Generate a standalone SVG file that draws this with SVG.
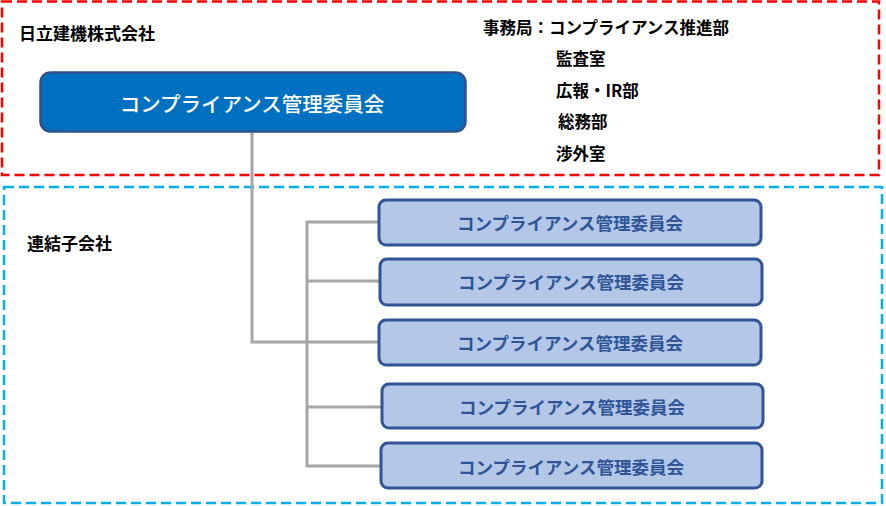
<svg xmlns="http://www.w3.org/2000/svg" width="886" height="506" viewBox="0 0 886 506">
<style>
text{font-family:"Noto Sans CJK JP","Noto Sans CJK SC",sans-serif;font-weight:bold;dominant-baseline:central}
.lbl{font-size:17px;fill:#000}
.sub{font-size:16.5px;fill:#000}
.child rect{fill:#B4C7E7;stroke:#2F5597;stroke-width:3}
.child text{font-size:17.5px;fill:#2F5597;text-anchor:middle;font-weight:bold}
.conn{fill:none;stroke:#A6A6A6;stroke-width:3}
</style>
<rect width="886" height="506" fill="#fff"/>
<g id="frame-parent">
<rect x="2" y="1.5" width="877" height="173.5" fill="none" stroke="#FF0000" stroke-width="2.5" stroke-dasharray="10,5"/>
<text class="lbl" x="19" y="32">日立建機株式会社</text>
<text class="sub" x="483" y="27">事務局：コンプライアンス推進部</text>
<text class="sub" x="556" y="58">監査室</text>
<text class="sub" x="556" y="90">広報・IR部</text>
<text class="sub" x="558" y="121">総務部</text>
<text class="sub" x="556" y="153">渉外室</text>
</g>
<g id="frame-sub">
<rect x="4" y="187" width="878" height="316" fill="none" stroke="#00B0F0" stroke-width="2.5" stroke-dasharray="10,5"/>
<text class="lbl" x="27" y="242">連結子会社</text>
</g>
<g id="connectors">
<polyline class="conn" points="252,132 252,342 380,342"/>
<polyline class="conn" points="380,222 307,222 307,466 381,466"/>
<line class="conn" x1="307" y1="281" x2="381" y2="281"/>
<line class="conn" x1="307" y1="407" x2="382" y2="407"/>
</g>
<g id="main">
<rect x="40.5" y="72.5" width="425" height="59" rx="10" fill="#0070C0" stroke="#2F528F" stroke-width="2.5"/>
<text x="252" y="103" font-size="20.5" fill="#fff" text-anchor="middle" font-weight="normal" style="font-weight:500">コンプライアンス管理委員会</text>
</g>
<g id="child1" class="child"><rect x="379" y="200" width="382" height="45" rx="7"/><text x="570" y="222">コンプライアンス管理委員会</text></g>
<g id="child2" class="child"><rect x="380" y="259" width="382" height="46" rx="7"/><text x="571" y="281">コンプライアンス管理委員会</text></g>
<g id="child3" class="child"><rect x="379" y="320" width="382" height="45" rx="7"/><text x="570" y="342">コンプライアンス管理委員会</text></g>
<g id="child4" class="child"><rect x="382" y="384" width="381" height="44" rx="7"/><text x="572" y="406">コンプライアンス管理委員会</text></g>
<g id="child5" class="child"><rect x="381" y="443" width="381" height="45" rx="7"/><text x="571" y="466">コンプライアンス管理委員会</text></g>
</svg>
